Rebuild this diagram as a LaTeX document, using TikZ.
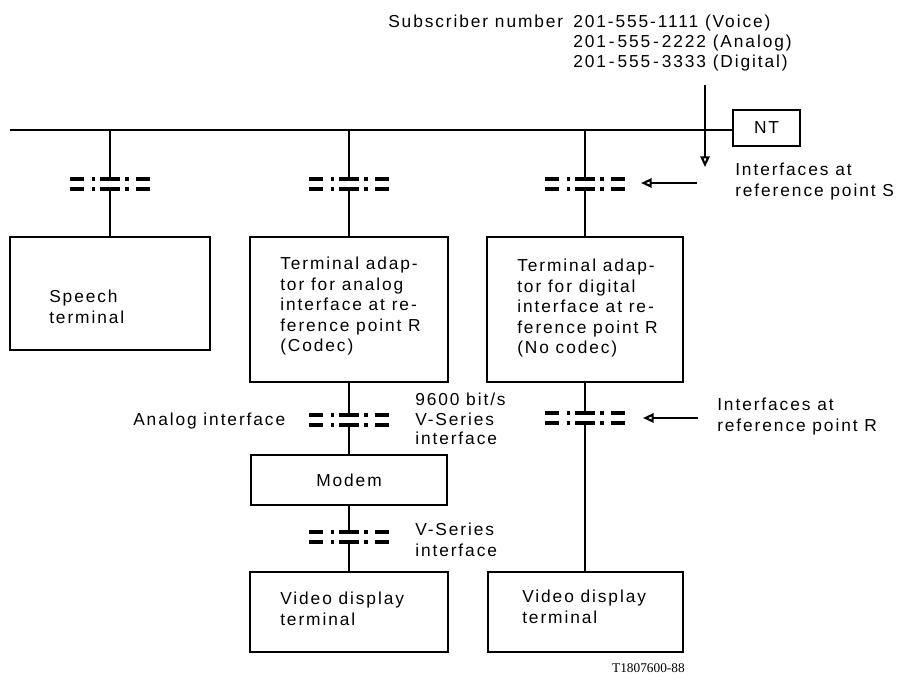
\documentclass[tikz,border=0pt]{standalone}
\usepackage{fontspec}
\setmainfont{Liberation Sans}[LetterSpace=11]
\newfontfamily\idfont{Liberation Serif}
\usetikzlibrary{arrows.meta}
\tikzset{
  box/.style={draw, line width=1.3pt, inner sep=0pt},
  vline/.style={line width=1.1pt},
  busline/.style={line width=1.2pt},
  ifl/.style={line width=2.6pt},
  lbl/.style={inner sep=0pt, anchor=north west, align=left,
    font=\fontsize{13pt}{15.4pt}\selectfont},
  arr/.style={line width=1.1pt, -{Triangle[open, length=8pt, width=7pt, line width=1.6pt]}},
  iface/.pic={
    \foreach \yy in {0,10} {
      \draw[ifl] (-40,\yy) -- (-26,\yy);
      \draw[ifl] (-18.5,\yy) -- (-15,\yy);
      \draw[ifl] (-10,\yy) -- (10,\yy);
      \draw[ifl] (15,\yy) -- (18.5,\yy);
      \draw[ifl] (26,\yy) -- (40,\yy);
    }
    \coordinate (-t) at (0,0);
    \coordinate (-b) at (0,10);
  }
}
\begin{document}
\begin{tikzpicture}[x=0.75pt, y=-0.75pt]
\useasboundingbox (0,0) rectangle (900,684);

% boxes
\node[box, minimum width=150pt, minimum height=84.75pt] (speech) at (110,293.5) {};
\node[box, minimum width=148.5pt, minimum height=108.75pt] (taA) at (349,309.5) {};
\node[box, minimum width=147pt, minimum height=108.75pt] (taD) at (585,309.5) {};
\node[box, minimum width=147pt, minimum height=37.5pt] (modem) at (349,480) {};
\node[box, minimum width=148.5pt, minimum height=60pt] (vdtA) at (349,612) {};
\node[box, minimum width=146.25pt, minimum height=60pt] (vdtD) at (585.5,612) {};
\node[box, minimum width=50.25pt, minimum height=27pt] (nt) at (766.5,128) {};

% bus
\coordinate (busL) at (10,130);
\coordinate (b1) at (110,130);
\coordinate (b2) at (349,130);
\coordinate (b3) at (585,130);
\draw[busline] (busL) -- (busL -| nt.west);

% interface symbols
\pic (i1) at (110,179) {iface};
\pic (i2) at (349,179) {iface};
\pic (i3) at (585,179) {iface};
\pic (i2m) at (349,415) {iface};
\pic (i3m) at (585,413) {iface};
\pic (i2l) at (349,532) {iface};

% vertical connectors
\draw[vline] (b1) -- (i1-t);
\draw[vline] (i1-b) -- (i1-b |- speech.north);
\draw[vline] (b2) -- (i2-t);
\draw[vline] (i2-b) -- (i2-b |- taA.north);
\draw[vline] (b3) -- (i3-t);
\draw[vline] (i3-b) -- (i3-b |- taD.north);
\draw[vline] (i2m-t |- taA.south) -- (i2m-t);
\draw[vline] (i2m-b) -- (i2m-b |- modem.north);
\draw[vline] (i2l-t |- modem.south) -- (i2l-t);
\draw[vline] (i2l-b) -- (i2l-b |- vdtA.north);
\draw[vline] (i3m-t |- taD.south) -- (i3m-t);
\draw[vline] (i3m-b) -- (i3m-b |- vdtD.north);

% arrows
\coordinate (vaS) at (705,85);
\coordinate (vaE) at (705,167);
\draw[arr] (vaS) -- (vaE);
\coordinate (saS) at (697,183);
\coordinate (saE) at (641,183);
\draw[arr] (saS) -- (saE);
\coordinate (raS) at (698,418);
\coordinate (raE) at (643,418);
\draw[arr] (raS) -- (raE);

% texts
\node[lbl] (subT) at (388,15) {Subscriber number};
\node[lbl, font=\fontsize{13pt}{15pt}\selectfont] (subN) at (573,15) {201-555-1111 (Voice)\\201\,-\,555\,-\,2222 (Analog)\\201\,-\,555\,-\,3333 (Digital)};
\node[anchor=center, inner sep=0pt, font=\fontsize{13pt}{15pt}\selectfont] (ntT) at (nt.center) {NT};
\node[lbl] (ifS) at (735,163) {Interfaces at\\reference point S};
\node[lbl] (ifR) at (717,398) {Interfaces at\\reference point R};
\node[lbl] (spT) at (49,290) {Speech\\terminal};
\node[lbl] (taAT) at (280,257) {Terminal adap-\\tor for analog\\interface at re-\\ference point R\\(Codec)};
\node[lbl] (taDT) at (517,259) {Terminal adap-\\tor for digital\\interface at re-\\ference point R\\(No codec)};
\node[lbl] (anT) at (133,413) {Analog interface};
\node[lbl, font=\fontsize{13pt}{14.6pt}\selectfont] (vs1T) at (415,393) {9600 bit/s\\V-Series\\interface};
\node[inner sep=0pt, font=\fontsize{13pt}{15pt}\selectfont] (moT) at (modem.center) {Modem};
\node[lbl] (vs2T) at (415,523) {V-Series\\interface};
\node[lbl] (vdAT) at (280,592) {Video display\\terminal};
\node[lbl] (vdDT) at (522,590) {Video display\\terminal};
\node[anchor=north east, inner sep=0pt, font=\idfont\fontsize{10pt}{12pt}\selectfont] (code) at (685,663) {T1807600-88};
\end{tikzpicture}
\end{document}
